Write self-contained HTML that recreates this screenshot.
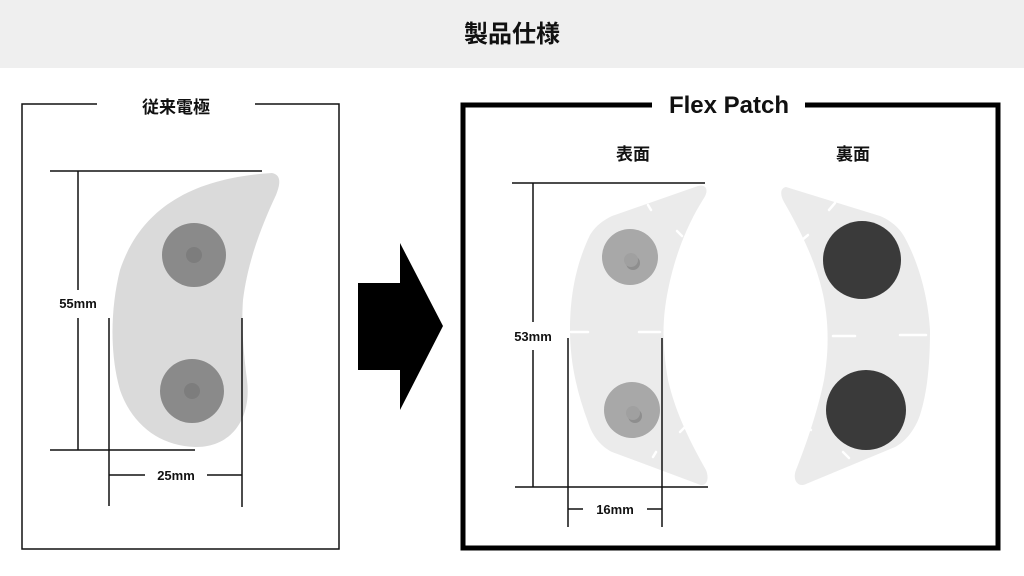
<!DOCTYPE html>
<html><head><meta charset="utf-8"><style>
html,body{margin:0;padding:0;background:#fff;}
svg{display:block;}
text{font-family:"Liberation Sans","Noto Sans CJK JP",sans-serif;font-weight:bold;fill:#111;}
</style></head><body>
<svg width="1024" height="576" viewBox="0 0 1024 576" xmlns="http://www.w3.org/2000/svg">
<rect x="0" y="0" width="1024" height="68" fill="#efefef"/>
<text x="512" y="42" font-size="24" text-anchor="middle">製品仕様</text>

<!-- left box -->
<path d="M97,104 H22 V549 H339 V104 H255" fill="none" stroke="#111" stroke-width="1.5"/>
<text x="176" y="113" font-size="17" text-anchor="middle">従来電極</text>

<!-- left electrode -->
<path d="M272,173 C282,175 280,185 276,195 C262,225 248,260 243,300 C241,330 244,355 247,380 C252,420 230,448 195,447 C160,446 132,425 120,390 C110,355 110,310 120,270 C140,210 190,178 272,173 Z" fill="#dadada"/>
<circle cx="194" cy="255" r="32" fill="#8a8a8a"/>
<circle cx="194" cy="255" r="8" fill="#7d7d7d"/>
<circle cx="192" cy="391" r="32" fill="#8a8a8a"/>
<circle cx="192" cy="391" r="8" fill="#7d7d7d"/>

<g stroke="#111" stroke-width="1.5" fill="none">
<line x1="50" y1="171" x2="262" y2="171"/>
<line x1="50" y1="450" x2="195" y2="450"/>
<line x1="78" y1="171" x2="78" y2="290"/>
<line x1="78" y1="318" x2="78" y2="450"/>
<line x1="109" y1="318" x2="109" y2="506"/>
<line x1="242" y1="318" x2="242" y2="507"/>
<line x1="109" y1="475" x2="145" y2="475"/>
<line x1="207" y1="475" x2="242" y2="475"/>
</g>
<text x="78" y="308" font-size="13" text-anchor="middle">55mm</text>
<text x="176" y="480" font-size="13" text-anchor="middle">25mm</text>

<!-- arrow -->
<polygon points="358,283 400,283 400,243 443,326 400,410 400,370 358,370" fill="#000"/>

<!-- right box -->
<path d="M652,105 H463 V548 H998 V105 H805" fill="none" stroke="#000" stroke-width="5"/>
<text x="729" y="113" font-size="24" text-anchor="middle">Flex Patch</text>
<text x="633" y="160" font-size="17" text-anchor="middle">表面</text>
<text x="853" y="160" font-size="17" text-anchor="middle">裏面</text>

<!-- front patch -->
<path d="M698,186 C708,184 708,192 704,198 C690,220 676,250 668,290 C662,320 662,345 668,380 C676,415 692,445 706,470 C710,480 706,488 698,484 L612,452 C600,446 592,435 588,422 C576,390 570,360 570,330 C570,290 578,260 590,235 C596,225 604,220 612,216 Z" fill="#ebebeb"/>
<g stroke="#fff" stroke-width="2.5" stroke-linecap="round">
<line x1="648" y1="205" x2="651" y2="210"/>
<line x1="677" y1="231" x2="682" y2="236"/>
<line x1="571" y1="332" x2="588" y2="332"/>
<line x1="639" y1="332" x2="660" y2="332"/>
<line x1="680" y1="432" x2="685" y2="427"/>
<line x1="653" y1="457" x2="656" y2="452"/>
</g>
<circle cx="630" cy="257" r="28" fill="#a8a8a8"/>
<circle cx="633" cy="263" r="7" fill="#8e8e8e"/>
<circle cx="631" cy="260" r="7" fill="#a0a0a0"/>
<circle cx="632" cy="410" r="28" fill="#a8a8a8"/>
<circle cx="635" cy="416" r="7" fill="#8e8e8e"/>
<circle cx="633" cy="413" r="7" fill="#a0a0a0"/>

<!-- back patch -->
<path d="M786,187 C780,188 780,195 784,202 C800,230 815,260 822,290 C828,315 830,345 824,380 C818,410 806,445 796,470 C792,480 798,488 806,484 L895,447 C905,442 915,430 920,415 C928,390 930,360 930,330 C928,295 918,262 905,238 C900,228 890,220 880,216 Z" fill="#ebebeb"/>
<g stroke="#fff" stroke-width="2.5" stroke-linecap="round">
<line x1="835" y1="203" x2="829" y2="210"/>
<line x1="808" y1="235" x2="802" y2="240"/>
<line x1="833" y1="336" x2="855" y2="336"/>
<line x1="900" y1="335" x2="926" y2="335"/>
<line x1="805" y1="425" x2="811" y2="430"/>
<line x1="843" y1="452" x2="849" y2="458"/>
</g>
<circle cx="862" cy="260" r="39" fill="#3a3a3a"/>
<circle cx="866" cy="410" r="40" fill="#3a3a3a"/>

<g stroke="#111" stroke-width="1.5" fill="none">
<line x1="512" y1="183" x2="705" y2="183"/>
<line x1="515" y1="487" x2="708" y2="487"/>
<line x1="533" y1="183" x2="533" y2="322"/>
<line x1="533" y1="350" x2="533" y2="487"/>
<line x1="568" y1="338" x2="568" y2="527"/>
<line x1="662" y1="338" x2="662" y2="527"/>
<line x1="568" y1="509" x2="583" y2="509"/>
<line x1="647" y1="509" x2="662" y2="509"/>
</g>
<text x="533" y="341" font-size="13" text-anchor="middle">53mm</text>
<text x="615" y="514" font-size="13" text-anchor="middle">16mm</text>
</svg>
</body></html>
